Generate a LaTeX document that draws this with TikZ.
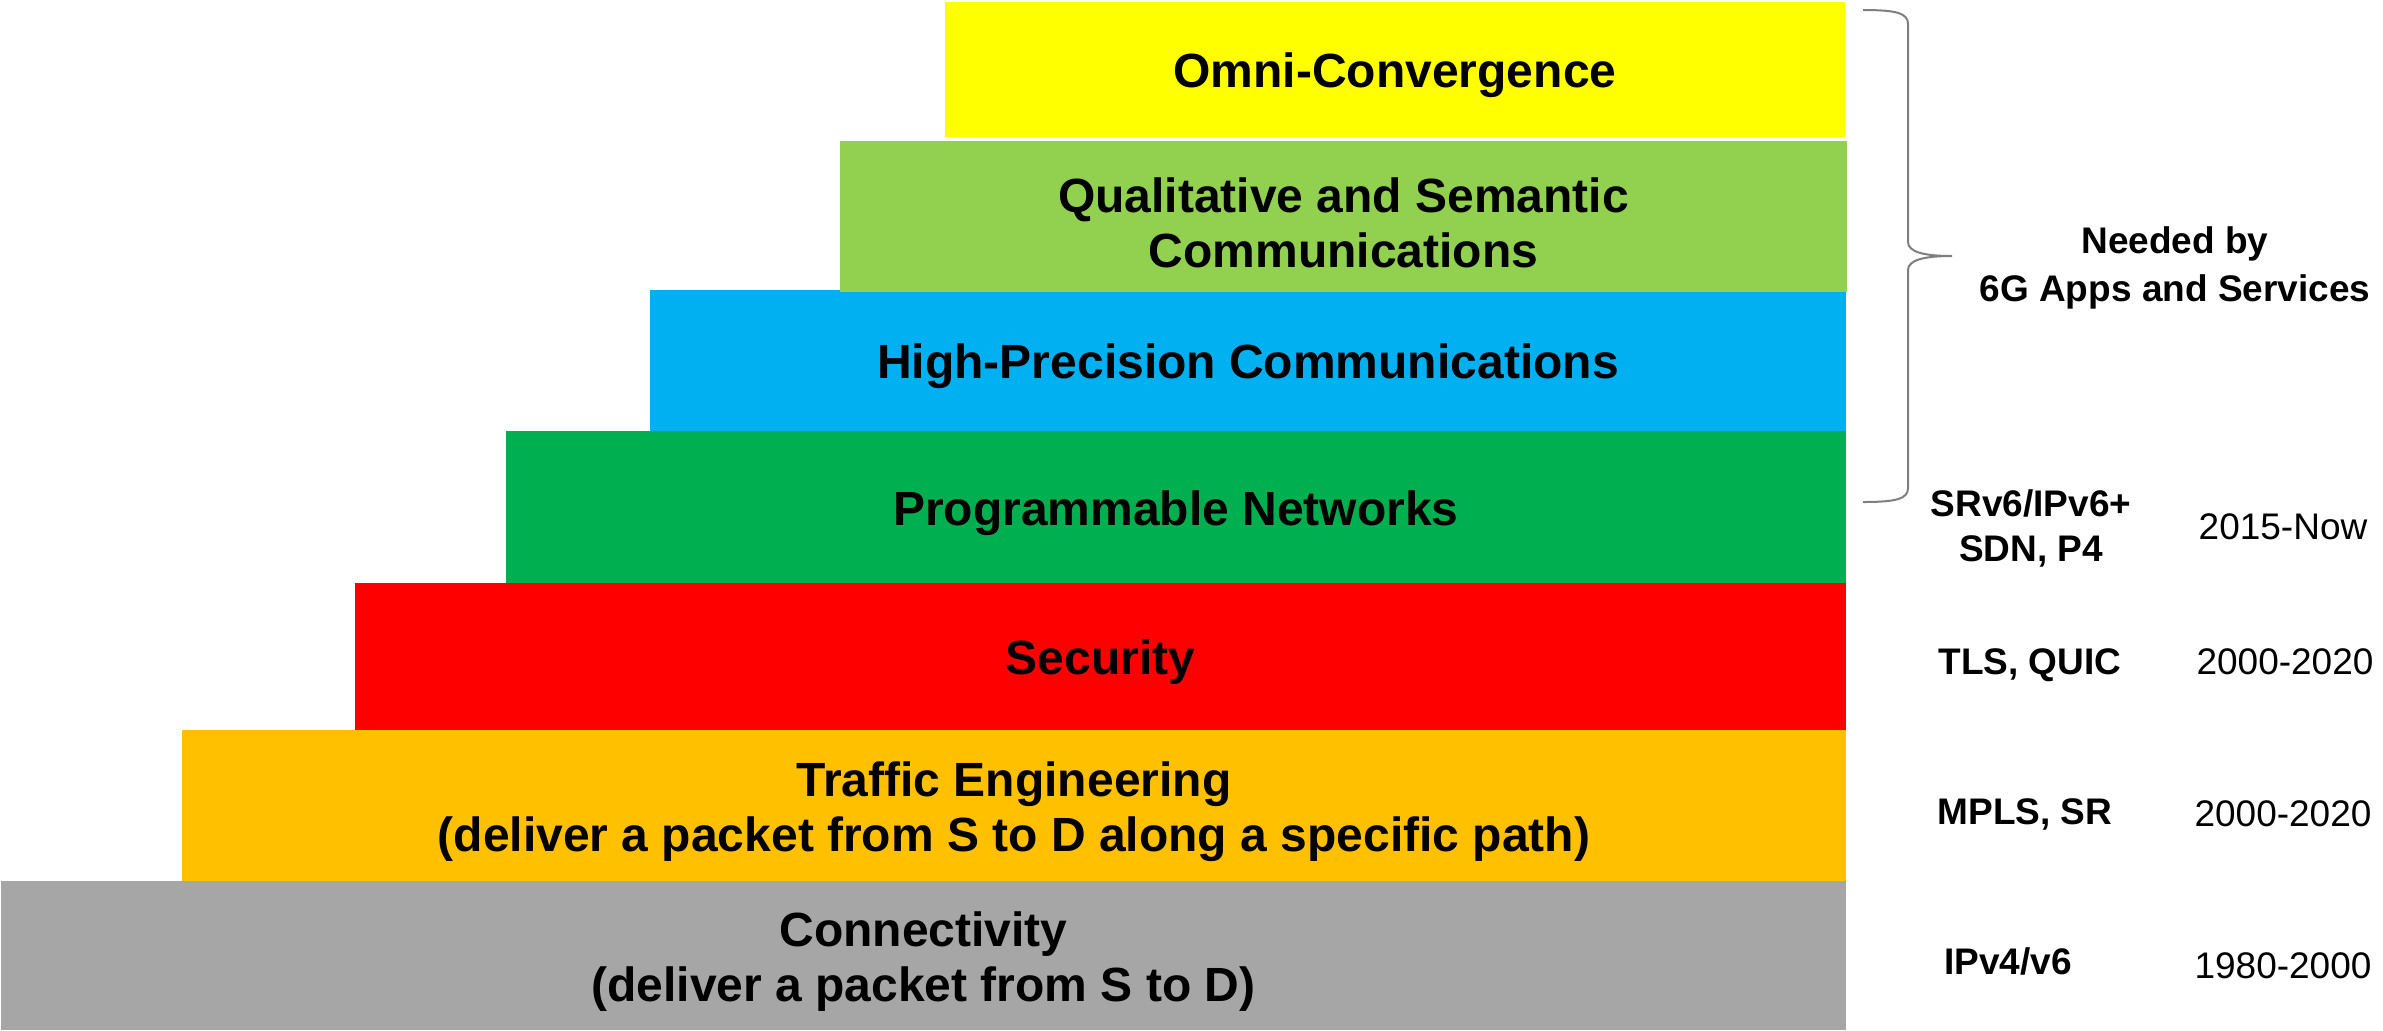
\documentclass[tikz,border=0pt]{standalone}
\usepackage{fontspec}
\setmainfont{Liberation Sans}
\definecolor{cYellow}{HTML}{FFFF00}
\definecolor{cLime}{HTML}{92D050}
\definecolor{cSky}{HTML}{00B0F0}
\definecolor{cGreen}{HTML}{00B050}
\definecolor{cRed}{HTML}{FF0000}
\definecolor{cOrange}{HTML}{FFC000}
\definecolor{cGray}{HTML}{A6A6A6}
\definecolor{cBrace}{HTML}{7F7F7F}
\tikzset{
  layer/.style={anchor=north west, inner sep=0pt, outer sep=0pt},
  layertext/.style={inner sep=0pt, align=center, yshift=-3pt,
    font=\bfseries\fontsize{24}{27.5}\selectfont},
  tech/.style={inner sep=0pt, align=center, font=\bfseries\fontsize{18.5}{22.5}\selectfont},
  era/.style={inner sep=0pt, font=\fontsize{18.5}{22.5}\selectfont},
  bracepath/.style={draw=cBrace, line width=1pt}
}
\begin{document}
\begin{tikzpicture}[x=0.5pt, y=-0.5pt]
\useasboundingbox (0,0) rectangle (2383,1030);

% the stacked layers, bottom first
\node[layer, fill=cGray,   minimum width=922.5pt, minimum height=74.5pt] (conn) at (1,881) {};
\node[layer, fill=cOrange, minimum width=832pt,   minimum height=75.5pt] (te)   at (182,730) {};
\node[layer, fill=cRed,    minimum width=745.5pt, minimum height=73.5pt] (sec)  at (355,583) {};
\node[layer, fill=cGreen,  minimum width=670pt,   minimum height=76pt]   (prog) at (506,431) {};
\node[layer, fill=cSky,    minimum width=598pt,   minimum height=70.5pt] (hp)   at (650,290) {};
\node[layer, fill=cLime,   minimum width=503.5pt, minimum height=75.5pt] (qs)   at (840,141) {};
\node[layer, fill=cYellow, minimum width=450pt,   minimum height=67.5pt] (omni) at (945,2) {};

% layer captions
\node[layertext] (connT) at (conn.center) {Connectivity\\(deliver a packet from S to D)};
\node[layertext] (teT)   at (te.center)   {Traffic Engineering\\(deliver a packet from S to D along a specific path)};
\node[layertext] (secT)  at (sec.center)  {Security};
\node[layertext] (progT) at (prog.center) {Programmable Networks};
\node[layertext] (hpT)   at (hp.center)   {High-Precision Communications};
\node[layertext] (qsT)   at (qs.center)   {Qualitative and Semantic\\Communications};
\node[layertext] (omniT) at (omni.center) {Omni-Convergence};

% brace grouping the upper four layers
\coordinate (btop) at (1863,10);
\coordinate (btip) at (1952,256);
\coordinate (bbot) at (1863,502);
\draw[bracepath] (btop) .. controls (1896,10) and (1908,13) .. (1908,24)
  -- (1908,242) .. controls (1908,252) and (1924,256) .. (btip)
  .. controls (1924,256) and (1908,260) .. (1908,270)
  -- (1908,488) .. controls (1908,499) and (1896,502) .. (bbot);
\node[tech, font=\bfseries\fontsize{18.5}{24}\selectfont] (need) at (2175,268) {Needed by\\6G Apps and Services};

% technologies and periods
\node[tech] (srv6) at (2031,528) {SRv6/IPv6+\\SDN, P4};
\node[era]  (y1)   at (2283,527) {2015-Now};
\node[tech] (tls)  at (2030,665) {TLS, QUIC};
\node[era]  (y2)   at (2285,662) {2000-2020};
\node[tech] (mpls) at (2025,814) {MPLS, SR};
\node[era]  (y3)   at (2283,814) {2000-2020};
\node[tech] (ipv)  at (2008,961) {IPv4/v6};
\node[era]  (y4)   at (2283,966) {1980-2000};
\end{tikzpicture}
\end{document}
